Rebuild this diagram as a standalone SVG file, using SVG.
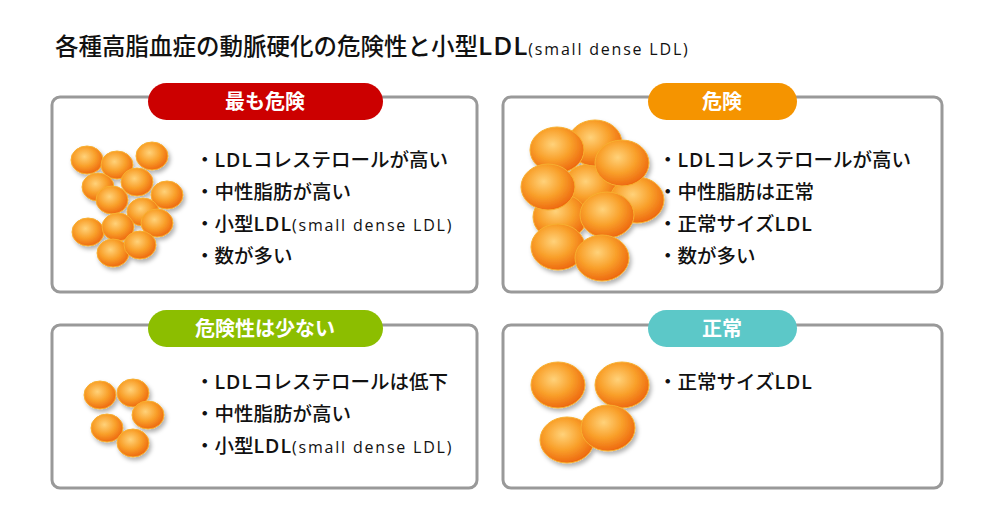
<svg xmlns="http://www.w3.org/2000/svg" width="1000" height="525" viewBox="0 0 1000 525">
<defs>
<radialGradient id="g" cx="0.42" cy="0.38" r="0.62">
<stop offset="0" stop-color="#ffd27a"/><stop offset="0.55" stop-color="#f9a02a"/><stop offset="1" stop-color="#ee6a10"/>
</radialGradient>
<filter id="sh" x="-30%" y="-30%" width="160%" height="160%"><feDropShadow dx="2" dy="3" stdDeviation="2" flood-color="#000" flood-opacity="0.3"/></filter>
<style>
.t{font-family:"Noto Sans CJK JP","Noto Sans",sans-serif;font-size:19.5px;font-weight:500;fill:#111}
.s{font-family:"Open Sans",sans-serif;font-size:16px;font-weight:500;letter-spacing:1.8px}
.l{font-family:"Open Sans",sans-serif;font-weight:600;letter-spacing:1px}
.p{font-family:"Noto Sans CJK JP",sans-serif;font-size:20px;font-weight:700;fill:#fff;text-anchor:middle}
.box{fill:#fff;stroke:#999;stroke-width:3}
ellipse{fill:url(#g);stroke:#f7b030;stroke-width:1}
</style>
</defs>
<rect width="1000" height="525" fill="#fff"/>
<text x="55" y="55" font-family="'Noto Sans CJK JP',sans-serif" font-size="23.5" font-weight="500" fill="#111">各種高脂血症の動脈硬化の危険性と小型<tspan class="l" font-size="26">LDL</tspan><tspan class="s" font-size="21" letter-spacing="2.5">(small dense LDL)</tspan></text>
<g id="n1">
<rect class="box" x="52" y="97" width="425" height="195" rx="8"/>
<rect x="148" y="83" width="235" height="37" rx="18.5" fill="#cc0000"/>
<text class="p" x="265" y="109">最も危険</text>
<g filter="url(#sh)">
<ellipse cx="87" cy="160" rx="16" ry="14"/><ellipse cx="117" cy="165" rx="16" ry="14"/><ellipse cx="152" cy="156" rx="16" ry="14"/>
<ellipse cx="98" cy="187" rx="16" ry="14"/><ellipse cx="137" cy="182" rx="16" ry="14"/><ellipse cx="167" cy="195" rx="16" ry="14"/>
<ellipse cx="112" cy="200" rx="16" ry="14"/><ellipse cx="143" cy="212" rx="16" ry="14"/><ellipse cx="157" cy="223" rx="16" ry="14"/>
<ellipse cx="88" cy="232" rx="16" ry="14"/><ellipse cx="118" cy="227" rx="16" ry="14"/><ellipse cx="113" cy="253" rx="16" ry="14"/><ellipse cx="140" cy="245" rx="16" ry="14"/>
</g>
<text class="t" x="195" y="167">・<tspan class="l">LDL</tspan>コレステロールが高い</text>
<text class="t" x="195" y="199">・中性脂肪が高い</text>
<text class="t" x="195" y="231">・小型<tspan class="l">LDL</tspan><tspan class="s">(small dense LDL)</tspan></text>
<text class="t" x="195" y="263">・数が多い</text>
</g>
<g id="n2">
<rect class="box" x="503" y="97" width="439" height="195" rx="8"/>
<rect x="648" y="83" width="149" height="37" rx="18.5" fill="#f59400"/>
<text class="p" x="722" y="109">危険</text>
<g filter="url(#sh)">
<ellipse cx="590" cy="187" rx="27" ry="23"/><ellipse cx="637" cy="200" rx="27" ry="23"/><ellipse cx="560" cy="217" rx="27" ry="23"/>
<ellipse cx="595" cy="143" rx="27" ry="23"/><ellipse cx="557" cy="150" rx="27" ry="23"/><ellipse cx="622" cy="163" rx="27" ry="23"/>
<ellipse cx="548" cy="187" rx="27" ry="23"/><ellipse cx="607" cy="215" rx="27" ry="23"/><ellipse cx="558" cy="247" rx="27" ry="23"/><ellipse cx="602" cy="258" rx="27" ry="23"/>
</g>
<text class="t" x="658" y="167">・<tspan class="l">LDL</tspan>コレステロールが高い</text>
<text class="t" x="658" y="199">・中性脂肪は正常</text>
<text class="t" x="658" y="231">・正常サイズ<tspan class="l">LDL</tspan></text>
<text class="t" x="658" y="263">・数が多い</text>
</g>
<g id="n3">
<rect class="box" x="52" y="325" width="425" height="163" rx="8"/>
<rect x="148" y="310" width="235" height="37" rx="18.5" fill="#8cbe00"/>
<text class="p" x="265" y="336">危険性は少ない</text>
<g filter="url(#sh)">
<ellipse cx="100" cy="395" rx="16" ry="14"/><ellipse cx="133" cy="393" rx="16" ry="14"/><ellipse cx="148" cy="415" rx="16" ry="14"/>
<ellipse cx="107" cy="428" rx="16" ry="14"/><ellipse cx="133" cy="443" rx="16" ry="14"/>
</g>
<text class="t" x="195" y="389">・<tspan class="l">LDL</tspan>コレステロールは低下</text>
<text class="t" x="195" y="421">・中性脂肪が高い</text>
<text class="t" x="195" y="453">・小型<tspan class="l">LDL</tspan><tspan class="s">(small dense LDL)</tspan></text>
</g>
<g id="n4">
<rect class="box" x="503" y="325" width="439" height="163" rx="8"/>
<rect x="648" y="310" width="149" height="37" rx="18.5" fill="#5cc8c8"/>
<text class="p" x="722" y="336">正常</text>
<g filter="url(#sh)">
<ellipse cx="558" cy="385" rx="27" ry="23"/><ellipse cx="622" cy="385" rx="27" ry="23"/>
<ellipse cx="567" cy="440" rx="27" ry="23"/><ellipse cx="608" cy="428" rx="27" ry="23"/>
</g>
<text class="t" x="658" y="389">・正常サイズ<tspan class="l">LDL</tspan></text>
</g>
<g id="connectors"/>
</svg>
